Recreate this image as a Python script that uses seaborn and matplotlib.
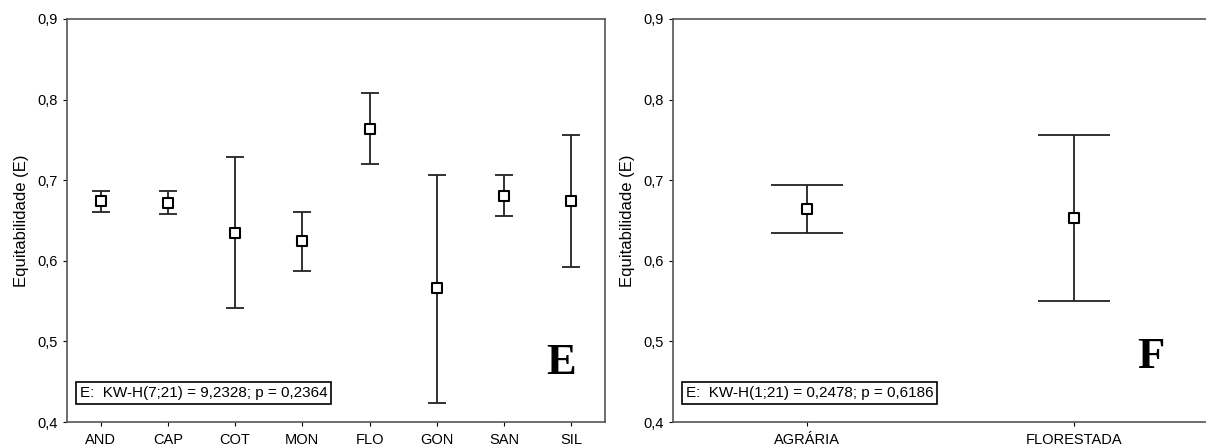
import numpy as np
import pandas as pd
import matplotlib
matplotlib.use("Agg")
import matplotlib.pyplot as plt
from matplotlib.ticker import FuncFormatter
import seaborn as sns

# ---- data ----
sites = ["AND", "CAP", "COT", "MON", "FLO", "GON", "SAN", "SIL"]
site_mean = [0.674, 0.672, 0.635, 0.624, 0.763, 0.566, 0.680, 0.674]
site_upper = [0.687, 0.686, 0.729, 0.661, 0.808, 0.707, 0.707, 0.756]
site_lower = [0.661, 0.658, 0.541, 0.587, 0.720, 0.424, 0.655, 0.592]

land = ["AGRÁRIA", "FLORESTADA"]
land_mean = [0.664, 0.653]
land_upper = [0.694, 0.756]
land_lower = [0.635, 0.550]

yticks = [0.4, 0.5, 0.6, 0.7, 0.8, 0.9]
ylabel = "Equitabilidade (E)"
stat_E = "E:  KW-H(7;21) = 9,2328; p = 0,2364"
stat_F = "E:  KW-H(1;21) = 0,2478; p = 0,6186"

sns.set_theme(style="white")
plt.rcParams["font.family"] = ["Liberation Sans", "DejaVu Sans"]

fig = plt.figure(figsize=(12.06, 4.48), dpi=100)
axE = fig.add_axes([0.0556, 0.058, 0.4460, 0.8996])
axF = fig.add_axes([0.558, 0.058, 0.4430, 0.8996])

fmt = FuncFormatter(lambda v, p: f"{v:.1f}".replace(".", ","))


def panel(ax, cats, mean, lo, up, capsize, letter, letter_xy, stat, statbox_x):
    df = pd.DataFrame({"cat": cats, "mean": mean})
    pos = np.arange(len(cats))
    m = np.array(mean)
    yerr = np.vstack([m - np.array(lo), np.array(up) - m])
    ax.errorbar(pos, m, yerr=yerr, fmt="none", ecolor="#222222",
                elinewidth=1.3, capsize=capsize, capthick=1.3, zorder=2)
    sns.scatterplot(data=df, x=pos, y="mean", marker="s", s=58,
                    facecolor="white", edgecolor="black", linewidth=1.5,
                    ax=ax, zorder=3, legend=False)
    ax.set_xlim(-0.5, len(cats) - 0.5)
    ax.set_ylim(0.4, 0.9)
    ax.set_xticks(pos)
    ax.set_xticklabels(cats)
    ax.set_yticks(yticks)
    ax.yaxis.set_major_formatter(fmt)
    ax.set_xlabel("")
    ax.set_ylabel(ylabel, fontsize=12, color="black", labelpad=6)
    ax.tick_params(axis="both", labelsize=10.5, colors="black", length=3,
                   width=0.8, direction="out", bottom=True, left=True)
    ax.tick_params(axis="x", pad=5)
    for sp in ax.spines.values():
        sp.set_visible(True)
        sp.set_color("#555555")
        sp.set_linewidth(1.2)
    ax.text(letter_xy[0], letter_xy[1], letter, transform=ax.transAxes,
            fontsize=32, fontweight="bold", family="Liberation Serif",
            ha="center", va="center", color="black")
    ax.text(statbox_x, 0.072, stat, transform=ax.transAxes, fontsize=11,
            ha="left", va="center", color="black",
            bbox=dict(boxstyle="square,pad=0.25", facecolor="white",
                      edgecolor="black", linewidth=1.2))


panel(axE, sites, site_mean, site_lower, site_upper, 6.5, "E",
      (0.918, 0.147), stat_E, 0.024)
panel(axF, land, land_mean, land_lower, land_upper, 26, "F",
      (0.894, 0.162), stat_F, 0.024)

fig.savefig("out.png", dpi=100)
